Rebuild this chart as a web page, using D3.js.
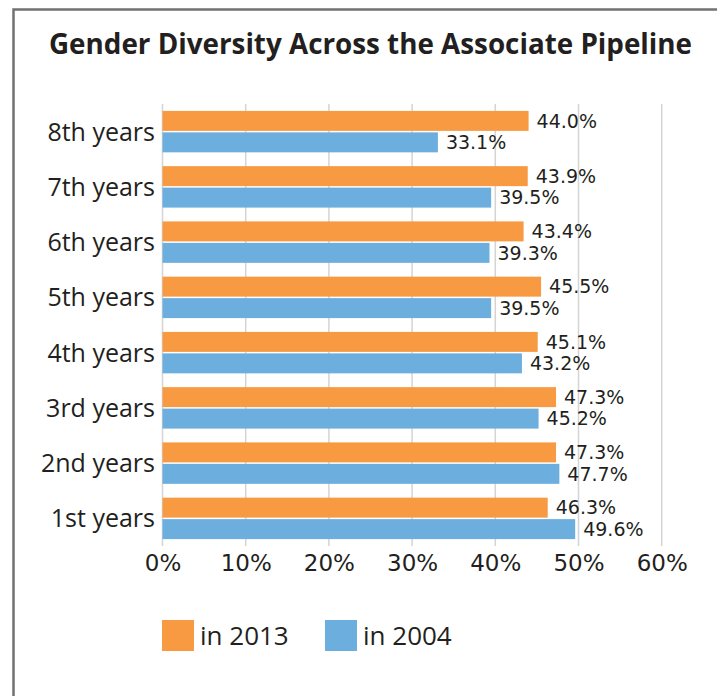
<!DOCTYPE html>
<html>
<head>
<meta charset="utf-8">
<script src="https://cdn.jsdelivr.net/npm/d3@7"></script>
<style>
  html, body { margin: 0; padding: 0; background: #fff; }
  svg { display: block; }
</style>
</head>
<body>
<svg id="chart" width="717" height="696"></svg>
<script>
// Share of women among associates, by class year
const categories = ["8th years", "7th years", "6th years", "5th years", "4th years", "3rd years", "2nd years", "1st years"];
const seriesNames = ["in 2013", "in 2004"];
const values2013 = [44.0, 43.9, 43.4, 45.5, 45.1, 47.3, 47.3, 46.3];
const values2004 = [33.1, 39.5, 39.3, 39.5, 43.2, 45.2, 47.7, 49.6];
const xTicks = [0, 10, 20, 30, 40, 50, 60];
const colors = ["#F79A42", "#6CAEDE"];

const svg = d3.select("#chart");
const textColor = "#231f20";

// Frame (left and top edges)
svg.append("path")
  .attr("d", "M13.5,696 L13.5,9.5 L717,9.5")
  .attr("fill", "none")
  .attr("stroke", "#727274")
  .attr("stroke-width", 2.5);

// Title
svg.append("text")
  .attr("x", 370.5)
  .attr("y", 54)
  .attr("text-anchor", "middle")
  .attr("font-family", "'Open Sans', sans-serif")
  .attr("font-weight", 700)
  .attr("font-size", 27.8)
  .attr("fill", textColor)
  .text("Gender Diversity Across the Associate Pipeline");

const plotTop = 104, plotBottom = 546;
const x = d3.scaleLinear().domain([0, 60]).range([162.5, 661.7]);
const y = d3.scaleBand().domain(categories).range([plotTop, plotBottom])
  .paddingInner(0.25).paddingOuter(0.125);
const ySub = d3.scaleBand().domain(seriesNames).range([0, y.bandwidth()]).paddingInner(0.07);

// Gridlines
svg.append("g").selectAll("line")
  .data(xTicks)
  .join("line")
  .attr("x1", d => x(d)).attr("x2", d => x(d))
  .attr("y1", plotTop).attr("y2", plotBottom)
  .attr("stroke", "#d4d4d4")
  .attr("stroke-width", 1.5);

// X axis tick labels
const xAxis = d3.axisBottom(x).tickValues(xTicks).tickFormat(d => d + "%").tickSize(0).tickPadding(0);
const gx = svg.append("g").attr("transform", `translate(0,${plotBottom})`).call(xAxis);
gx.select(".domain").remove();
gx.selectAll("text")
  .attr("y", 25)
  .attr("dy", null)
  .attr("font-family", "'DejaVu Sans', sans-serif")
  .attr("font-size", 23)
  .attr("fill", textColor);

// Category labels
const yAxis = d3.axisLeft(y).tickSize(0).tickPadding(0);
const gy = svg.append("g").attr("transform", "translate(155,0)").call(yAxis);
gy.select(".domain").remove();
gy.selectAll("text")
  .attr("dy", "0.36em")
  .attr("font-family", "'Open Sans', sans-serif")
  .attr("font-size", 25)
  .attr("fill", textColor);

// Bars and value labels
const rows = categories.map((c, i) => ({ category: c, vals: [values2013[i], values2004[i]] }));
const groups = svg.append("g").selectAll("g")
  .data(rows)
  .join("g")
  .attr("transform", d => `translate(0,${y(d.category)})`);

const bars = groups.selectAll("g")
  .data(d => d.vals.map((v, j) => ({ series: seriesNames[j], value: v, color: colors[j] })))
  .join("g");

bars.append("rect")
  .attr("x", x(0))
  .attr("y", d => ySub(d.series))
  .attr("width", d => x(d.value) - x(0))
  .attr("height", ySub.bandwidth())
  .attr("fill", d => d.color);

bars.append("text")
  .attr("x", d => x(d.value) + 8)
  .attr("y", d => ySub(d.series) + ySub.bandwidth() / 2)
  .attr("dy", "0.36em")
  .attr("font-family", "'DejaVu Sans', sans-serif")
  .attr("font-size", 19)
  .attr("fill", textColor)
  .text(d => d.value.toFixed(1) + "%");

// Legend
const legendX = [162, 325];
const legend = svg.append("g").selectAll("g")
  .data(seriesNames)
  .join("g")
  .attr("transform", (d, i) => `translate(${legendX[i]},620)`);
legend.append("rect")
  .attr("width", 32).attr("height", 31)
  .attr("fill", (d, i) => colors[i]);
legend.append("text")
  .attr("x", 38)
  .attr("y", 15.5)
  .attr("dy", "0.36em")
  .attr("font-family", "'Open Sans', sans-serif")
  .attr("font-size", 26)
  .attr("fill", textColor)
  .text(d => d);
</script>
</body>
</html>
